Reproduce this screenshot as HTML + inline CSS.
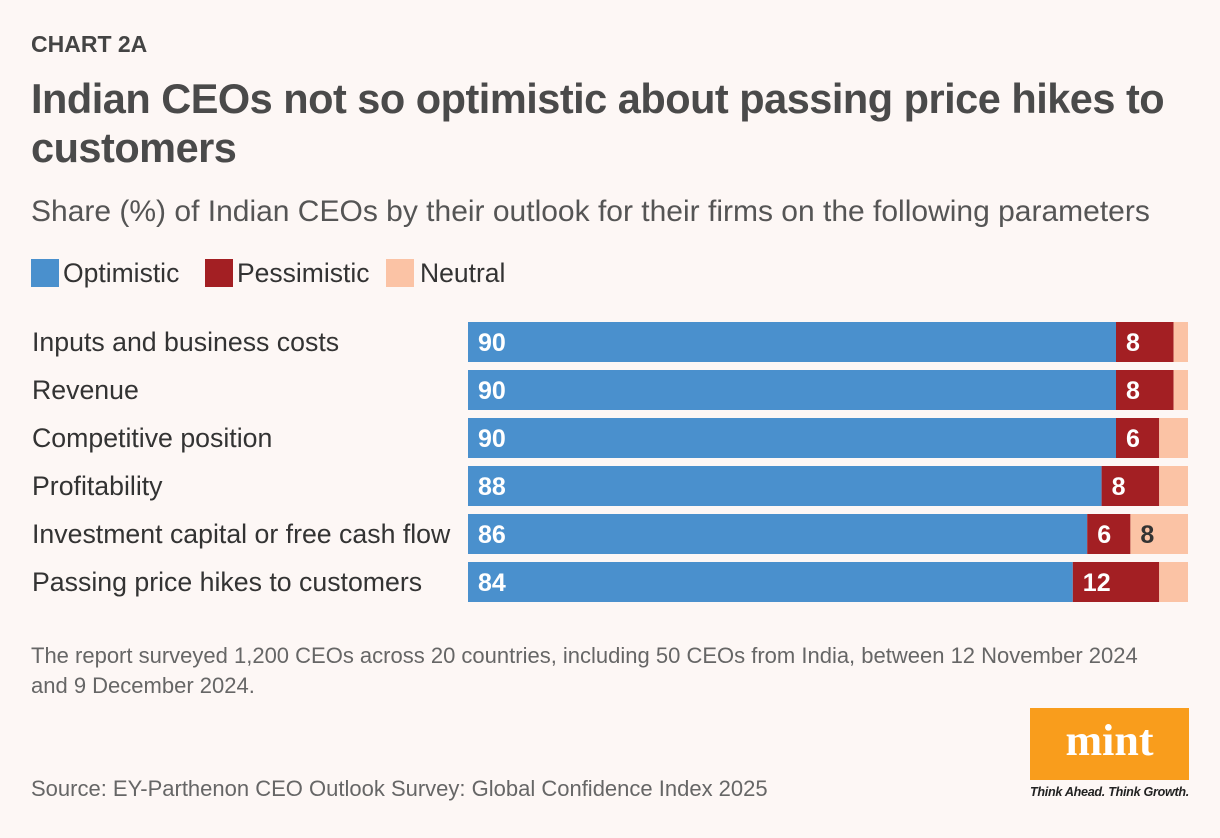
<!DOCTYPE html>
<html><head><meta charset="utf-8"><style>
body{margin:0;width:1220px;height:838px;background:#fdf7f5;font-family:"Liberation Sans",sans-serif;position:relative;overflow:hidden;color:#333}
.t{position:absolute;white-space:nowrap}
</style></head><body>
<div class="t" style="left:31px;top:31px;font-size:23px;font-weight:bold;color:#444">CHART 2A</div>
<div class="t" style="left:31px;top:74px;font-size:41.5px;font-weight:bold;color:#4a4a4a;line-height:49px;letter-spacing:-0.5px">Indian CEOs not so optimistic about passing price hikes to<br>customers</div>
<div class="t" style="left:31px;top:195px;font-size:30px;color:#555">Share (%) of Indian CEOs by their outlook for their firms on the following parameters</div>
<div>
<div class="t" style="left:31px;top:258px;font-size:26.5px;color:#333"><span style="display:inline-block;width:28px;height:28px;background:#4a90cd;vertical-align:-5px;margin-right:4px"></span>Optimistic</div>
<div class="t" style="left:205px;top:258px;font-size:26.5px;color:#333"><span style="display:inline-block;width:28px;height:28px;background:#a31f23;vertical-align:-5px;margin-right:4px"></span>Pessimistic</div>
<div class="t" style="left:386px;top:258px;font-size:26.5px;color:#333"><span style="display:inline-block;width:28px;height:28px;background:#fbc3a5;vertical-align:-5px;margin-right:6px"></span>Neutral</div>
</div>
<svg id="chart" width="1220" height="838" style="position:absolute;left:0;top:0"></svg>
<div class="t" style="left:31px;top:641px;font-size:22px;color:#666;line-height:30px">The report surveyed 1,200 CEOs across 20 countries, including 50 CEOs from India, between 12 November 2024<br>and 9 December 2024.</div>
<div class="t" style="left:31px;top:776px;font-size:22px;color:#666">Source: EY-Parthenon CEO Outlook Survey: Global Confidence Index 2025</div>
<div style="position:absolute;left:1030px;top:708px;width:159px;height:72px;background:#f99d1c;color:#fff;font-family:'Liberation Serif',serif;font-weight:bold;font-size:44px;text-align:center;line-height:66px">mint</div>
<div class="t" style="left:1030px;top:785px;font-size:12.6px;font-style:italic;font-weight:bold;color:#222;letter-spacing:-0.3px">Think Ahead. Think Growth.</div>
<script>
const categories=["Inputs and business costs","Revenue","Competitive position","Profitability","Investment capital or free cash flow","Passing price hikes to customers"];
const optimistic=[90,90,90,88,86,84];
const pessimistic=[8,8,6,8,6,12];
const neutral=[2,2,4,4,8,4];
const NS="http://www.w3.org/2000/svg";
const svg=document.getElementById('chart');
const x0=468,pw=720,rowTop=322,rowStep=48,barH=40;
const xs=v=>v*pw/100;
function mk(tag,attrs){const e=document.createElementNS(NS,tag);for(const k in attrs)e.setAttribute(k,attrs[k]);svg.appendChild(e);return e;}
categories.forEach((c,i)=>{
  const y=rowTop+i*rowStep;
  const lab=mk('text',{x:32,y:y+29,'font-size':26.7,fill:'#333','font-family':'Liberation Sans, sans-serif'});
  lab.textContent=c;
  
  
  const segs=[[optimistic[i],'#4a90cd','#fff','optimistic'],[pessimistic[i],'#a31f23','#fff','pessimistic'],[neutral[i],'#fbc3a5','#333','neutral']];
  let x=x0;
  segs.forEach(([v,col,tc,nm])=>{
    const r=mk('rect',{x:x,y:y,width:xs(v),height:barH,fill:col});
    
    
    if(v>=5){
      const t=mk('text',{x:x+10,y:y+29,'font-size':25,'font-weight':'bold',fill:tc,'font-family':'Liberation Sans, sans-serif'});
      t.textContent=v;
      
      
    }
    x+=xs(v);
  });
});
</script>
</body></html>
